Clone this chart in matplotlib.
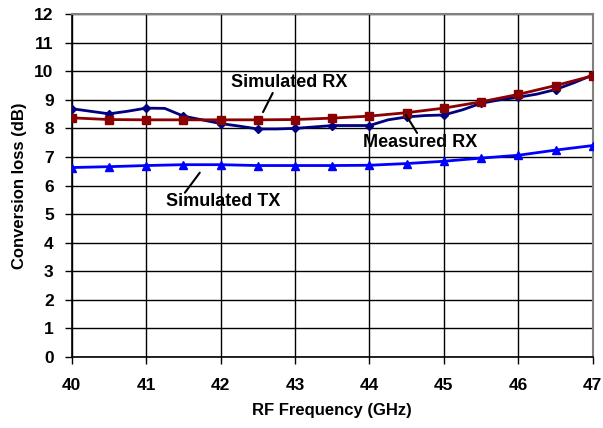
import matplotlib
matplotlib.use("Agg")
import matplotlib.pyplot as plt
import numpy as np

plt.rcParams["font.family"] = ["Liberation Sans", "DejaVu Sans"]
plt.rcParams["font.weight"] = "bold"

SIM_RED, MEAS_NAVY, TX_BLUE = "#8B0000", "#000080", "#0000FF"

# half-GHz grid for the simulated curves
freq_sim = [40, 40.5, 41, 41.5, 42, 42.5, 43, 43.5, 44, 44.5, 45, 45.5, 46, 46.5, 47]
sim_rx = [8.37, 8.31, 8.30, 8.30, 8.30, 8.30, 8.31, 8.36, 8.43, 8.55, 8.71, 8.93, 9.19, 9.50, 9.84]
sim_tx = [6.63, 6.66, 6.70, 6.73, 6.73, 6.70, 6.70, 6.70, 6.71, 6.77, 6.85, 6.96, 7.06, 7.24, 7.40]

# measured curve, quarter-GHz steps
freq_meas = [40, 40.25, 40.5, 40.75, 41, 41.25, 41.5, 41.75, 42, 42.25, 42.5, 42.75, 43,
             43.25, 43.5, 43.75, 44, 44.25, 44.5, 44.75, 45, 45.25, 45.5, 45.75, 46,
             46.25, 46.5, 46.75, 47]
meas_rx = [8.69, 8.60, 8.51, 8.60, 8.71, 8.70, 8.43, 8.30, 8.17, 8.08, 7.98, 7.98, 8.00,
           8.05, 8.10, 8.10, 8.10, 8.30, 8.40, 8.45, 8.47, 8.65, 8.88, 9.00, 9.09,
           9.20, 9.36, 9.60, 9.87]

# curve labels: (text, text position, leader start on curve, leader end)
LABELS = [
    ("Simulated RX", (42.92, 9.59), (42.57, 8.57), (42.70, 9.24)),
    ("Measured RX", (44.68, 7.49), (44.49, 8.47), (44.64, 7.84)),
    ("Simulated TX", (42.03, 5.44), (41.72, 6.45), (41.52, 5.75)),
]

fig = plt.figure(figsize=(6.03, 4.28), dpi=100)
ax = fig.add_axes([0.119, 0.166, 0.864, 0.801])

ax.plot(freq_meas, meas_rx, color=MEAS_NAVY, lw=2, marker="D", ms=4,
        markevery=2, zorder=3)
ax.plot(freq_sim, sim_rx, color=SIM_RED, lw=2, marker="s", ms=6, zorder=4)
ax.plot(freq_sim, sim_tx, color=TX_BLUE, lw=2, marker="^", ms=6, zorder=3)

ax.set_xlim(40, 47)
ax.set_ylim(0, 12)
ax.set_xticks(range(40, 48))
ax.set_yticks(range(0, 13))
ax.grid(True, color="black", lw=1)
ax.set_axisbelow(True)
for s in ["top", "right"]:
    ax.spines[s].set_color("#808080")
    ax.spines[s].set_linewidth(1.5)
for s in ["left", "bottom"]:
    ax.spines[s].set_color("black")
    ax.spines[s].set_linewidth(1.2)
ax.tick_params(labelsize=12.5, length=5, width=1, direction="out")
ax.tick_params(axis="y", pad=8)
ax.tick_params(axis="x", pad=10)

ax.set_xlabel("RF Frequency (GHz)", fontsize=12, fontweight="bold", labelpad=7)
ax.set_ylabel("Conversion loss (dB)", fontsize=12, fontweight="bold", labelpad=5)

arrow = dict(arrowstyle="-", color="black", lw=1.5, shrinkA=0, shrinkB=0)
for text, pos, start, end in LABELS:
    ax.annotate("", xy=start, xytext=end, arrowprops=arrow, zorder=5)
    ax.text(pos[0], pos[1], text, fontsize=13, fontweight="bold",
            ha="center", va="center", zorder=6)

fig.savefig("out.png", dpi=100)
